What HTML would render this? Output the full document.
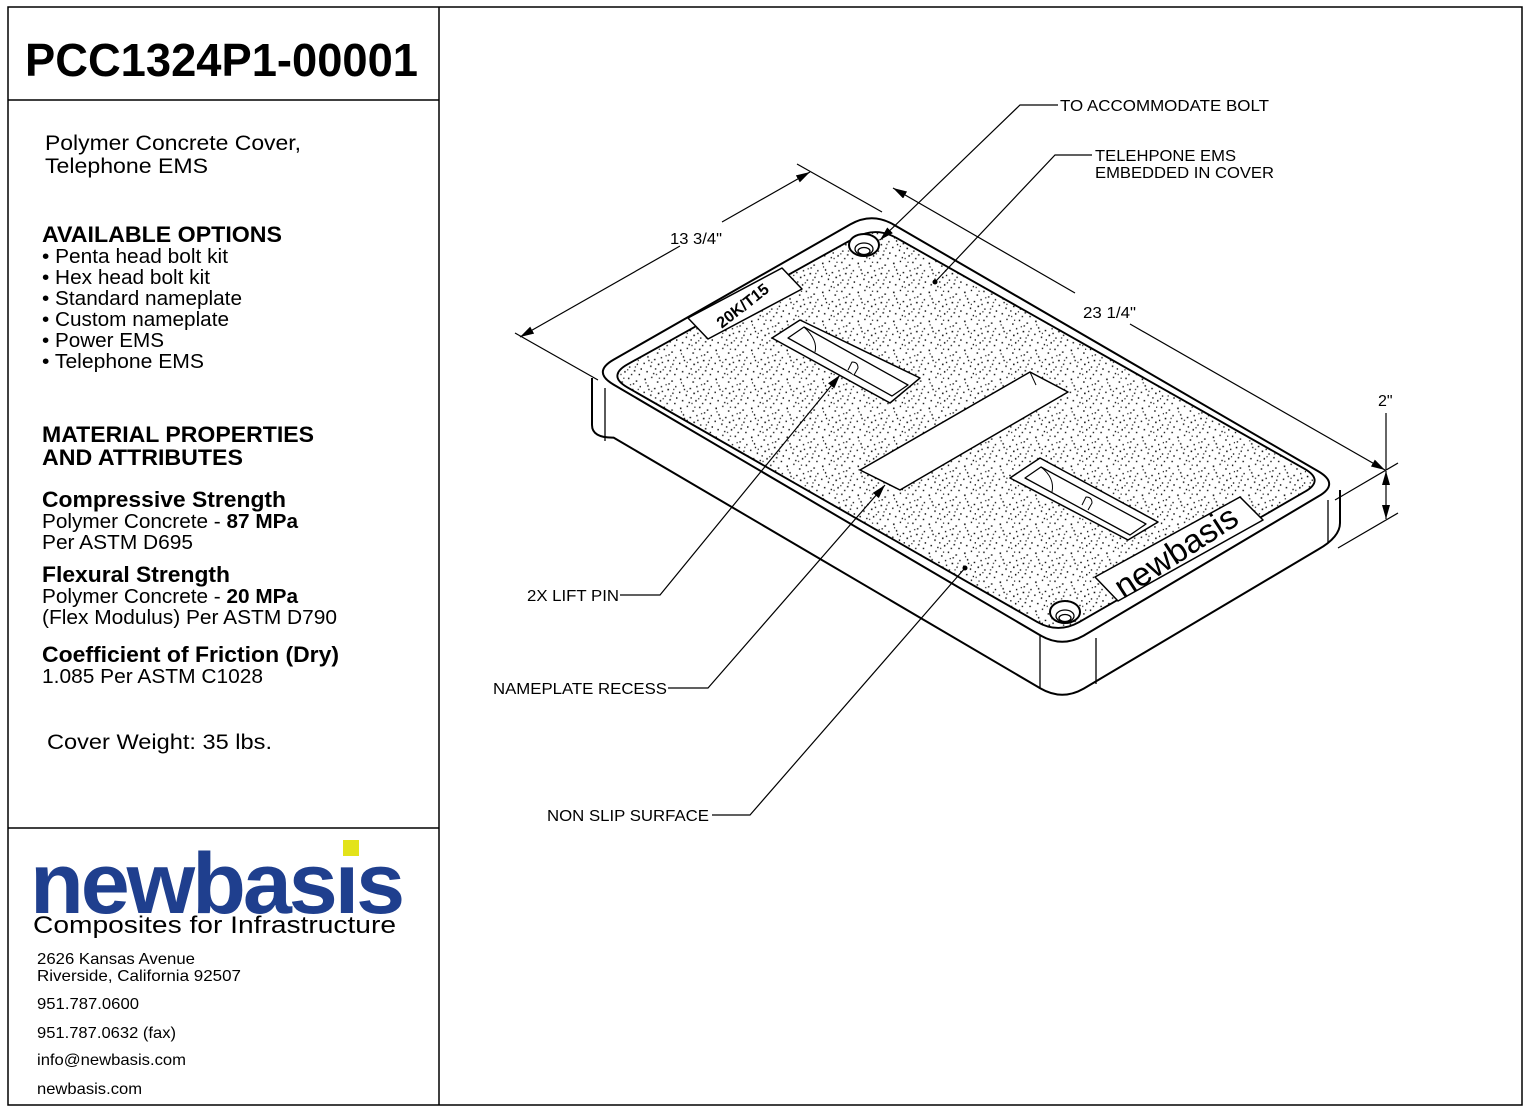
<!DOCTYPE html>
<html><head><meta charset="utf-8"><style>
html,body{margin:0;padding:0;background:#fff}
svg{display:block}
text{font-family:"Liberation Sans",Arial,sans-serif;fill:#000}
</style></head><body>
<svg width="1530" height="1111" viewBox="0 0 1530 1111" xmlns="http://www.w3.org/2000/svg">
<defs>
<pattern id="st" width="37" height="31" patternUnits="userSpaceOnUse">
<g fill="#000">
<rect x="2" y="3" width="1.6" height="1.6"/><rect x="9" y="1" width="1.4" height="1.4"/><rect x="15" y="6" width="1.6" height="1.4"/><rect x="22" y="2" width="1.4" height="1.6"/><rect x="30" y="5" width="1.6" height="1.4"/><rect x="34" y="11" width="1.4" height="1.4"/>
<rect x="5" y="10" width="1.4" height="1.6"/><rect x="12" y="13" width="1.6" height="1.4"/><rect x="19" y="11" width="1.4" height="1.4"/><rect x="26" y="14" width="1.6" height="1.6"/><rect x="31" y="18" width="1.4" height="1.4"/>
<rect x="1" y="17" width="1.5" height="1.4"/><rect x="8" y="20" width="1.4" height="1.6"/><rect x="16" y="18" width="1.6" height="1.6"/><rect x="23" y="21" width="1.4" height="1.4"/><rect x="28" y="25" width="1.6" height="1.4"/><rect x="35" y="23" width="1.4" height="1.6"/>
<rect x="4" y="26" width="1.6" height="1.4"/><rect x="11" y="28" width="1.4" height="1.4"/><rect x="18" y="26" width="1.5" height="1.6"/><rect x="25" y="29" width="1.4" height="1.4"/><rect x="33" y="29" width="1.5" height="1.4"/>
<rect x="13" y="23" width="1.4" height="1.4"/><rect x="20" y="16" width="1.4" height="1.4"/><rect x="6" y="14" width="1.4" height="1.4"/><rect x="27" y="8" width="1.4" height="1.4"/>
<rect x="3" y="7" width="1.2" height="1.2"/><rect x="17" y="2" width="1.2" height="1.2"/><rect x="24" y="9" width="1.2" height="1.2"/><rect x="9" y="16" width="1.2" height="1.2"/><rect x="29" y="21" width="1.2" height="1.2"/><rect x="21" y="24" width="1.2" height="1.2"/><rect x="14" y="29" width="1.2" height="1.2"/><rect x="32" y="14" width="1.2" height="1.2"/>
</g></pattern>
<marker id="ar" markerWidth="14" markerHeight="8" refX="14" refY="4" orient="auto" markerUnits="userSpaceOnUse"><path d="M0,0 L14,4 L0,8 Z" fill="#000"/></marker>
<marker id="ars" markerWidth="14" markerHeight="8" refX="0" refY="4" orient="auto" markerUnits="userSpaceOnUse"><path d="M14,0 L0,4 L14,8 Z" fill="#000"/></marker>
</defs>

<rect x="8" y="7" width="1514" height="1098" fill="none" stroke="#000" stroke-width="1.5"/>
<line x1="439" y1="7" x2="439" y2="1105" stroke="#000" stroke-width="1.5"/>
<line x1="8" y1="100" x2="439" y2="100" stroke="#000" stroke-width="1.5"/>
<line x1="8" y1="828" x2="439" y2="828" stroke="#000" stroke-width="1.5"/>

<text x="25" y="76" font-size="46" font-weight="bold" textLength="393" lengthAdjust="spacingAndGlyphs">PCC1324P1-00001</text>
<text x="45" y="150" font-size="21" textLength="256" lengthAdjust="spacingAndGlyphs">Polymer Concrete Cover,</text>
<text x="45" y="173" font-size="21" textLength="163" lengthAdjust="spacingAndGlyphs">Telephone EMS</text>
<text x="42" y="242" font-size="22" font-weight="bold" textLength="240" lengthAdjust="spacingAndGlyphs">AVAILABLE OPTIONS</text>
<g font-size="20">
<text x="42" y="263" textLength="186" lengthAdjust="spacingAndGlyphs">• Penta head bolt kit</text>
<text x="42" y="284" textLength="168" lengthAdjust="spacingAndGlyphs">• Hex head bolt kit</text>
<text x="42" y="305" textLength="200" lengthAdjust="spacingAndGlyphs">• Standard nameplate</text>
<text x="42" y="326" textLength="187" lengthAdjust="spacingAndGlyphs">• Custom nameplate</text>
<text x="42" y="347" textLength="122" lengthAdjust="spacingAndGlyphs">• Power EMS</text>
<text x="42" y="368" textLength="162" lengthAdjust="spacingAndGlyphs">• Telephone EMS</text>
</g>
<text x="42" y="442" font-size="22" font-weight="bold" textLength="272" lengthAdjust="spacingAndGlyphs">MATERIAL PROPERTIES</text>
<text x="42" y="465" font-size="22" font-weight="bold" textLength="201" lengthAdjust="spacingAndGlyphs">AND ATTRIBUTES</text>
<text x="42" y="507" font-size="22" font-weight="bold" textLength="244" lengthAdjust="spacingAndGlyphs">Compressive Strength</text>
<text x="42" y="528" font-size="20" textLength="256" lengthAdjust="spacingAndGlyphs">Polymer Concrete - <tspan font-weight="bold">87 MPa</tspan></text>
<text x="42" y="549" font-size="20" textLength="151" lengthAdjust="spacingAndGlyphs">Per ASTM D695</text>
<text x="42" y="582" font-size="22" font-weight="bold" textLength="188" lengthAdjust="spacingAndGlyphs">Flexural Strength</text>
<text x="42" y="603" font-size="20" textLength="256" lengthAdjust="spacingAndGlyphs">Polymer Concrete - <tspan font-weight="bold">20 MPa</tspan></text>
<text x="42" y="624" font-size="20" textLength="295" lengthAdjust="spacingAndGlyphs">(Flex Modulus) Per ASTM D790</text>
<text x="42" y="662" font-size="22" font-weight="bold" textLength="297" lengthAdjust="spacingAndGlyphs">Coefficient of Friction (Dry)</text>
<text x="42" y="683" font-size="20" textLength="221" lengthAdjust="spacingAndGlyphs">1.085 Per ASTM C1028</text>
<text x="47" y="749" font-size="21" textLength="225" lengthAdjust="spacingAndGlyphs">Cover Weight:  35 lbs.</text>

<text x="30" y="913" font-size="86" font-weight="bold" style="fill:#1f3f8e" textLength="372" lengthAdjust="spacingAndGlyphs" letter-spacing="-3">newbasıs</text>
<rect x="343" y="840" width="16" height="16" fill="#e3e31a"/>
<text x="33" y="933" font-size="24" textLength="363" lengthAdjust="spacingAndGlyphs">Composites for Infrastructure</text>
<g font-size="16">
<text x="37" y="964" textLength="158" lengthAdjust="spacingAndGlyphs">2626 Kansas Avenue</text>
<text x="37" y="981" textLength="204" lengthAdjust="spacingAndGlyphs">Riverside, California  92507</text>
<text x="37" y="1009" textLength="102" lengthAdjust="spacingAndGlyphs">951.787.0600</text>
<text x="37" y="1038" textLength="139" lengthAdjust="spacingAndGlyphs">951.787.0632 (fax)</text>
<text x="37" y="1065" textLength="149" lengthAdjust="spacingAndGlyphs">info@newbasis.com</text>
<text x="37" y="1094" textLength="105" lengthAdjust="spacingAndGlyphs">newbasis.com</text>
</g>

<g fill="none" stroke="#000" stroke-width="2" stroke-linejoin="round">
<path d="M592,378 L592,425 Q592,438 613.6,437.6 L1040.4,688.4 Q1062,701 1083.7,688.6 L1318.3,549.4 Q1340,537 1340,523 L1340,490" fill="#fff"/>
<line x1="605" y1="388" x2="605" y2="441" stroke-width="1.3"/>
<line x1="1040" y1="636" x2="1040" y2="689" stroke-width="1.3"/>
<line x1="1096" y1="638" x2="1096" y2="684" stroke-width="1.3"/>
<line x1="1328" y1="500" x2="1328" y2="543" stroke-width="1.3"/>
<path d="M613.7,359.6 L850.3,224.4 Q872,212 893.6,224.6 L1318.4,471.4 Q1340,484 1318.3,496.4 L1083.7,635.6 Q1062,648 1040.4,635.4 L613.6,384.6 Q592,372 613.7,359.6 Z" fill="#fff"/>
<path transform="translate(966,430) scale(0.96,0.935) translate(-966,-430)" d="M613.7,359.6 L850.3,224.4 Q872,212 893.6,224.6 L1318.4,471.4 Q1340,484 1318.3,496.4 L1083.7,635.6 Q1062,648 1040.4,635.4 L613.6,384.6 Q592,372 613.7,359.6 Z" fill="url(#st)"/>
<ellipse cx="864" cy="245" rx="15" ry="11" fill="#fff"/>
<ellipse cx="864" cy="249" rx="9" ry="6" fill="#fff" stroke-width="1.3"/>
<ellipse cx="864" cy="251" rx="6" ry="3.5" stroke-width="1.3"/>
<ellipse cx="1065" cy="612" rx="15" ry="11" fill="#fff"/>
<ellipse cx="1065" cy="616" rx="9" ry="6" fill="#fff" stroke-width="1.3"/>
<ellipse cx="1065" cy="618" rx="6" ry="3.5" stroke-width="1.3"/>
<polygon points="688,318 782,268 802,289 708,339" fill="#fff" stroke-width="1.5"/>
<polygon points="1095,577 1240,497 1263,520 1118,601" fill="#fff" stroke-width="1.5"/>
<polygon points="772,338 800,320 920,378 890,403" fill="#fff" stroke-width="1.5"/>
<polygon points="788,338 804,327 908,385 892,396" fill="#fff" stroke-width="1.3"/>
<path d="M804,327 Q818,340 815,352" stroke-width="1"/>
<path d="M848,370 L852,362 Q858,362 858,368 L854,375" stroke-width="1" fill="#fff"/>
<polygon points="860,470 1030,372 1068,392 900,490" fill="#fff" stroke-width="1.5"/>
<line x1="1030" y1="372" x2="1036" y2="385" stroke-width="1"/>
<polygon points="1010,478 1040,458 1158,522 1128,540" fill="#fff" stroke-width="1.5"/>
<polygon points="1025,478 1041,467 1146,524 1130,535" fill="#fff" stroke-width="1.3"/>
<path d="M1041,467 Q1055,478 1052,492" stroke-width="1"/>
<path d="M1082,505 L1086,497 Q1092,497 1092,503 L1088,510" stroke-width="1" fill="#fff"/>
</g>
<text x="0" y="0" font-size="16" font-weight="bold" transform="translate(746,310) rotate(-38)" text-anchor="middle">20K/T15</text>
<text x="0" y="0" font-size="33" transform="translate(1182,561) rotate(-33)" text-anchor="middle" textLength="140" lengthAdjust="spacingAndGlyphs">newbasis</text>

<g stroke="#000" stroke-width="1.2" fill="none">
<line x1="515" y1="333" x2="598" y2="380"/>
<line x1="797" y1="164" x2="882" y2="212"/>
<line x1="520" y1="337" x2="680" y2="246" marker-start="url(#ars)"/>
<line x1="722" y1="222" x2="810" y2="172" marker-end="url(#ar)"/>
<line x1="893" y1="188" x2="1075" y2="293" marker-start="url(#ars)"/>
<line x1="1130" y1="324" x2="1385" y2="470" marker-end="url(#ar)"/>
<line x1="1335" y1="500" x2="1398" y2="463"/>
<line x1="1338" y1="548" x2="1398" y2="513"/>
<line x1="1386" y1="413" x2="1386" y2="470"/>
<line x1="1386" y1="471" x2="1386" y2="519" marker-start="url(#ars)" marker-end="url(#ar)"/>
<polyline points="1058,105 1020,105 880,240" marker-end="url(#ar)"/>
<polyline points="1092,155 1055,155 935,282"/>
<polyline points="620,595 660,595 840,375" marker-end="url(#ar)"/>
<polyline points="668,688 708,688 885,485" marker-end="url(#ar)"/>
<polyline points="712,815 750,815 965,568"/>
</g>
<circle cx="935" cy="282" r="2.5" fill="#000"/>
<circle cx="965" cy="568" r="2.5" fill="#000"/>
<g font-size="16">
<text x="670" y="244" textLength="52" lengthAdjust="spacingAndGlyphs">13 3/4"</text>
<text x="1083" y="318" textLength="53" lengthAdjust="spacingAndGlyphs">23 1/4"</text>
<text x="1378" y="406">2"</text>
<text x="1060" y="111" textLength="209" lengthAdjust="spacingAndGlyphs">TO ACCOMMODATE BOLT</text>
<text x="1095" y="161" textLength="141" lengthAdjust="spacingAndGlyphs">TELEHPONE EMS</text>
<text x="1095" y="178" textLength="179" lengthAdjust="spacingAndGlyphs">EMBEDDED IN COVER</text>
<text x="527" y="601" textLength="92" lengthAdjust="spacingAndGlyphs">2X LIFT PIN</text>
<text x="493" y="694" textLength="174" lengthAdjust="spacingAndGlyphs">NAMEPLATE RECESS</text>
<text x="547" y="821" textLength="162" lengthAdjust="spacingAndGlyphs">NON SLIP SURFACE</text>
</g>
</svg>
</body></html>
